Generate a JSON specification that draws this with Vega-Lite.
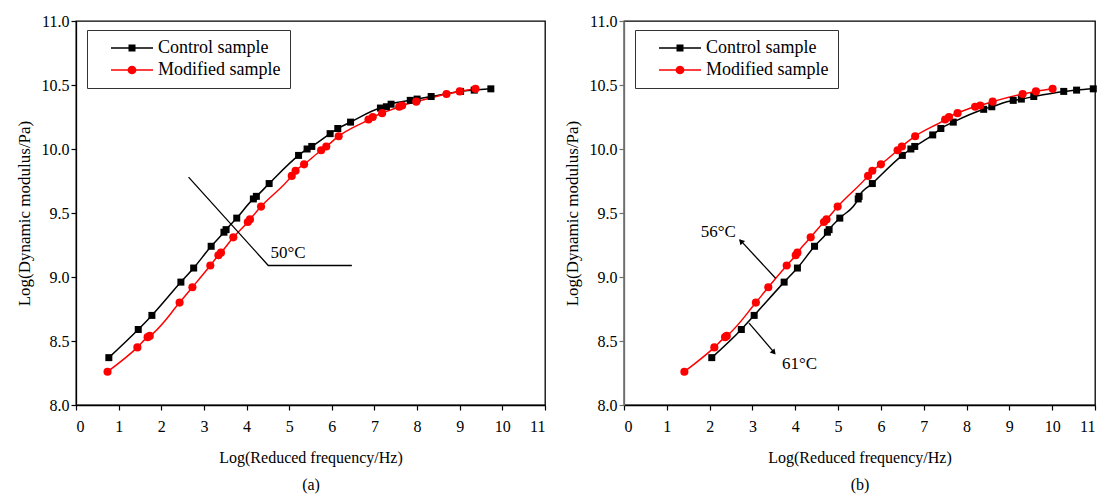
{
  "$schema": "https://vega.github.io/schema/vega-lite/v6.json",
  "padding": {"left": 14, "top": 12, "right": 0, "bottom": 3},
  "background": "white",
  "config": {
    "font": "Liberation Serif",
    "view": {"stroke": "black", "strokeWidth": 1.3},
    "axis": {
      "domainColor": "black", "tickColor": "black", "labelColor": "black", "titleColor": "black",
      "labelFont": "Liberation Serif", "titleFont": "Liberation Serif",
      "labelFontSize": 16, "titleFontSize": 17, "titleFontWeight": "normal",
      "grid": false, "tickSize": 5, "domainWidth": 1.3, "tickWidth": 1.2
    },
    "legend": {"labelFont": "Liberation Serif"}
  },
  "datasets": {
    "a": [
      {"series": "Control sample", "x": 0.77, "y": 8.37},
      {"series": "Control sample", "x": 1.46, "y": 8.59},
      {"series": "Control sample", "x": 1.78, "y": 8.70},
      {"series": "Control sample", "x": 2.46, "y": 8.96},
      {"series": "Control sample", "x": 2.76, "y": 9.07},
      {"series": "Control sample", "x": 3.17, "y": 9.24},
      {"series": "Control sample", "x": 3.47, "y": 9.35},
      {"series": "Control sample", "x": 3.52, "y": 9.37},
      {"series": "Control sample", "x": 3.77, "y": 9.46},
      {"series": "Control sample", "x": 4.16, "y": 9.61},
      {"series": "Control sample", "x": 4.23, "y": 9.63},
      {"series": "Control sample", "x": 4.53, "y": 9.73},
      {"series": "Control sample", "x": 5.22, "y": 9.95},
      {"series": "Control sample", "x": 5.42, "y": 10.00},
      {"series": "Control sample", "x": 5.53, "y": 10.02},
      {"series": "Control sample", "x": 5.96, "y": 10.12},
      {"series": "Control sample", "x": 6.14, "y": 10.16},
      {"series": "Control sample", "x": 6.44, "y": 10.21},
      {"series": "Control sample", "x": 7.14, "y": 10.32},
      {"series": "Control sample", "x": 7.28, "y": 10.33},
      {"series": "Control sample", "x": 7.39, "y": 10.35},
      {"series": "Control sample", "x": 7.84, "y": 10.38},
      {"series": "Control sample", "x": 8.00, "y": 10.39},
      {"series": "Control sample", "x": 8.33, "y": 10.41},
      {"series": "Control sample", "x": 9.02, "y": 10.45},
      {"series": "Control sample", "x": 9.34, "y": 10.46},
      {"series": "Control sample", "x": 9.73, "y": 10.47},
      {"series": "Modified sample", "x": 0.74, "y": 8.26},
      {"series": "Modified sample", "x": 1.44, "y": 8.45},
      {"series": "Modified sample", "x": 1.68, "y": 8.53},
      {"series": "Modified sample", "x": 1.73, "y": 8.54},
      {"series": "Modified sample", "x": 2.43, "y": 8.80},
      {"series": "Modified sample", "x": 2.73, "y": 8.92},
      {"series": "Modified sample", "x": 3.15, "y": 9.09},
      {"series": "Modified sample", "x": 3.34, "y": 9.17},
      {"series": "Modified sample", "x": 3.40, "y": 9.19},
      {"series": "Modified sample", "x": 3.69, "y": 9.31},
      {"series": "Modified sample", "x": 4.03, "y": 9.43},
      {"series": "Modified sample", "x": 4.08, "y": 9.45},
      {"series": "Modified sample", "x": 4.34, "y": 9.55},
      {"series": "Modified sample", "x": 5.06, "y": 9.79},
      {"series": "Modified sample", "x": 5.15, "y": 9.83},
      {"series": "Modified sample", "x": 5.35, "y": 9.88},
      {"series": "Modified sample", "x": 5.75, "y": 9.99},
      {"series": "Modified sample", "x": 5.87, "y": 10.02},
      {"series": "Modified sample", "x": 6.16, "y": 10.10},
      {"series": "Modified sample", "x": 6.86, "y": 10.23},
      {"series": "Modified sample", "x": 6.96, "y": 10.25},
      {"series": "Modified sample", "x": 7.18, "y": 10.28},
      {"series": "Modified sample", "x": 7.58, "y": 10.33},
      {"series": "Modified sample", "x": 7.65, "y": 10.34},
      {"series": "Modified sample", "x": 7.98, "y": 10.37},
      {"series": "Modified sample", "x": 8.69, "y": 10.43},
      {"series": "Modified sample", "x": 9.00, "y": 10.45},
      {"series": "Modified sample", "x": 9.37, "y": 10.47}
    ],
    "b": [
      {"series": "Control sample", "x": 2.05, "y": 8.37},
      {"series": "Control sample", "x": 2.74, "y": 8.59},
      {"series": "Control sample", "x": 3.04, "y": 8.70},
      {"series": "Control sample", "x": 3.74, "y": 8.96},
      {"series": "Control sample", "x": 4.05, "y": 9.07},
      {"series": "Control sample", "x": 4.45, "y": 9.24},
      {"series": "Control sample", "x": 4.75, "y": 9.35},
      {"series": "Control sample", "x": 4.79, "y": 9.37},
      {"series": "Control sample", "x": 5.04, "y": 9.46},
      {"series": "Control sample", "x": 5.47, "y": 9.61},
      {"series": "Control sample", "x": 5.49, "y": 9.63},
      {"series": "Control sample", "x": 5.80, "y": 9.73},
      {"series": "Control sample", "x": 6.50, "y": 9.95},
      {"series": "Control sample", "x": 6.70, "y": 10.00},
      {"series": "Control sample", "x": 6.79, "y": 10.02},
      {"series": "Control sample", "x": 7.21, "y": 10.11},
      {"series": "Control sample", "x": 7.40, "y": 10.16},
      {"series": "Control sample", "x": 7.69, "y": 10.21},
      {"series": "Control sample", "x": 8.40, "y": 10.31},
      {"series": "Control sample", "x": 8.59, "y": 10.33},
      {"series": "Control sample", "x": 9.09, "y": 10.38},
      {"series": "Control sample", "x": 9.28, "y": 10.39},
      {"series": "Control sample", "x": 9.57, "y": 10.41},
      {"series": "Control sample", "x": 10.27, "y": 10.45},
      {"series": "Control sample", "x": 10.57, "y": 10.46},
      {"series": "Control sample", "x": 10.96, "y": 10.47},
      {"series": "Modified sample", "x": 1.41, "y": 8.26},
      {"series": "Modified sample", "x": 2.11, "y": 8.45},
      {"series": "Modified sample", "x": 2.36, "y": 8.53},
      {"series": "Modified sample", "x": 2.40, "y": 8.54},
      {"series": "Modified sample", "x": 3.08, "y": 8.80},
      {"series": "Modified sample", "x": 3.37, "y": 8.92},
      {"series": "Modified sample", "x": 3.80, "y": 9.09},
      {"series": "Modified sample", "x": 4.01, "y": 9.17},
      {"series": "Modified sample", "x": 4.05, "y": 9.19},
      {"series": "Modified sample", "x": 4.36, "y": 9.31},
      {"series": "Modified sample", "x": 4.67, "y": 9.43},
      {"series": "Modified sample", "x": 4.73, "y": 9.45},
      {"series": "Modified sample", "x": 4.99, "y": 9.55},
      {"series": "Modified sample", "x": 5.70, "y": 9.79},
      {"series": "Modified sample", "x": 5.80, "y": 9.83},
      {"series": "Modified sample", "x": 6.00, "y": 9.88},
      {"series": "Modified sample", "x": 6.39, "y": 9.99},
      {"series": "Modified sample", "x": 6.49, "y": 10.02},
      {"series": "Modified sample", "x": 6.80, "y": 10.10},
      {"series": "Modified sample", "x": 7.50, "y": 10.23},
      {"series": "Modified sample", "x": 7.59, "y": 10.25},
      {"series": "Modified sample", "x": 7.79, "y": 10.28},
      {"series": "Modified sample", "x": 8.20, "y": 10.33},
      {"series": "Modified sample", "x": 8.32, "y": 10.34},
      {"series": "Modified sample", "x": 8.61, "y": 10.37},
      {"series": "Modified sample", "x": 9.31, "y": 10.43},
      {"series": "Modified sample", "x": 9.62, "y": 10.45},
      {"series": "Modified sample", "x": 10.01, "y": 10.47}
    ],
    "annALine": [
      {"id": "50", "x": 2.64, "y": 9.78},
      {"id": "50", "x": 4.51, "y": 9.09},
      {"id": "50", "x": 6.47, "y": 9.09}
    ],
    "annAText": [
      {"label": "50°C", "x": 4.56, "y": 9.19}
    ],
    "annBLine": [
      {"id": "56", "x": 3.54, "y": 8.99},
      {"id": "56", "x": 2.71, "y": 9.29},
      {"id": "61", "x": 2.92, "y": 8.64},
      {"id": "61", "x": 3.52, "y": 8.405}
    ],
    "annBHead": [
      {"id": "56", "x": 2.73, "y": 9.28, "angle": 317},
      {"id": "61", "x": 3.50, "y": 8.41, "angle": 140}
    ],
    "annBText": [
      {"label": "56°C", "x": 2.20, "y": 9.35},
      {"label": "61°C", "x": 4.10, "y": 8.32}
    ]
  },
  "spacing": 15,
  "resolve": {"scale": {"color": "independent", "shape": "independent", "size": "independent"}},
  "hconcat": [
    {
      "width": 469,
      "height": 384,
      "resolve": {"scale": {"color": "independent", "shape": "independent", "size": "independent"}},
      "layer": [
        {
          "data": {"name": "a"},
          "mark": {"type": "line", "interpolate": "monotone", "strokeWidth": 1.5},
          "encoding": {
            "x": {"field": "x", "type": "quantitative",
              "scale": {"domain": [0, 11], "nice": false, "zero": false},
              "axis": {"values": [0,1,2,3,4,5,6,7,8,9,10,11], "format": "d", "labelPadding": 8,
                "title": ["Log(Reduced frequency/Hz)", "(a)"], "titleFontSize": 16, "titleLineHeight": 27, "titlePadding": 15}},
            "y": {"field": "y", "type": "quantitative",
              "scale": {"domain": [8, 11], "nice": false, "zero": false},
              "axis": {"values": [8,8.25,8.5,8.75,9,9.25,9.5,9.75,10,10.25,10.5,10.75,11],
                "labelExpr": "datum.value * 4 % 2 == 0 ? format(datum.value, '.1f') : ''",
                "tickSize": {"condition": {"test": "datum.value * 4 % 2 == 0", "value": 5}, "value": 3},
                "labelPadding": 2, "title": "Log(Dynamic modulus/Pa)", "titlePadding": 8}},
            "color": {"field": "series", "type": "nominal",
              "scale": {"domain": ["Control sample", "Modified sample"], "range": ["#000000", "#ff0000"]},
              "legend": null}
          }
        },
        {
          "data": {"name": "a"},
          "mark": {"type": "point", "filled": true, "opacity": 1},
          "encoding": {
            "x": {"field": "x", "type": "quantitative"},
            "y": {"field": "y", "type": "quantitative"},
            "color": {"field": "series", "type": "nominal",
              "scale": {"domain": ["Control sample", "Modified sample"], "range": ["#000000", "#ff0000"]}, "legend": null},
            "shape": {"field": "series", "type": "nominal",
              "scale": {"domain": ["Control sample", "Modified sample"], "range": ["square", "circle"]}, "legend": null},
            "size": {"field": "series", "type": "nominal",
              "scale": {"domain": ["Control sample", "Modified sample"], "range": [49, 66]}, "legend": null}
          }
        },
        {
          "data": {"name": "a"},
          "mark": {"type": "point", "filled": true, "opacity": 0},
          "encoding": {
            "x": {"field": "x", "type": "quantitative"},
            "y": {"field": "y", "type": "quantitative"},
            "color": {"field": "series", "type": "nominal",
              "scale": {"domain": ["Control sample", "Modified sample"], "range": ["#000000", "#ff0000"]},
              "legend": {"title": null, "orient": "none", "legendX": 11, "legendY": 9,
                "strokeColor": "#333333", "fillColor": "white", "padding": 9, "rowPadding": 4,
                "symbolSize": 64, "symbolOffset": 27, "labelOffset": 17, "labelFontSize": 18,
                "labelColor": "black", "symbolStrokeWidth": 0, "symbolOpacity": 1}},
            "shape": {"field": "series", "type": "nominal",
              "scale": {"domain": ["Control sample", "Modified sample"],
                "range": ["M-5.25,-0.19H-0.875V-0.875H0.875V-0.19H5.25V0.19H0.875V0.875H-0.875V0.19H-5.25Z",
                          "M-5.25,-0.19H-1.1A1.125,1.125 0 0 1 1.1,-0.19H5.25V0.19H1.1A1.125,1.125 0 0 1 -1.1,0.19H-5.25Z"]},
              "legend": {"title": null, "orient": "none", "legendX": 11, "legendY": 9,
                "strokeColor": "#333333", "fillColor": "white", "padding": 9, "rowPadding": 4,
                "symbolSize": 64, "symbolOffset": 27, "labelOffset": 17, "labelFontSize": 18,
                "labelColor": "black", "symbolStrokeWidth": 0, "symbolOpacity": 1}}
          }
        },
        {
          "data": {"name": "annALine"},
          "mark": {"type": "line", "color": "black", "strokeWidth": 1.3},
          "encoding": {
            "x": {"field": "x", "type": "quantitative"},
            "y": {"field": "y", "type": "quantitative"},
            "detail": {"field": "id"}
          }
        },
        {
          "data": {"name": "annAText"},
          "mark": {"type": "text", "align": "left", "baseline": "middle", "fontSize": 17, "font": "Liberation Serif", "color": "black"},
          "encoding": {
            "x": {"field": "x", "type": "quantitative"},
            "y": {"field": "y", "type": "quantitative"},
            "text": {"field": "label"}
          }
        }
      ]
    },
    {
      "width": 471,
      "height": 384,
      "resolve": {"scale": {"color": "independent", "shape": "independent", "size": "independent"}},
      "layer": [
        {
          "data": {"name": "b"},
          "mark": {"type": "line", "interpolate": "monotone", "strokeWidth": 1.5},
          "encoding": {
            "x": {"field": "x", "type": "quantitative",
              "scale": {"domain": [0, 11], "nice": false, "zero": false},
              "axis": {"values": [0,1,2,3,4,5,6,7,8,9,10,11], "format": "d", "labelPadding": 8,
                "title": ["Log(Reduced frequency/Hz)", "(b)"], "titleFontSize": 16, "titleLineHeight": 27, "titlePadding": 15}},
            "y": {"field": "y", "type": "quantitative",
              "scale": {"domain": [8, 11], "nice": false, "zero": false},
              "axis": {"values": [8,8.25,8.5,8.75,9,9.25,9.5,9.75,10,10.25,10.5,10.75,11],
                "labelExpr": "datum.value * 4 % 2 == 0 ? format(datum.value, '.1f') : ''",
                "tickSize": {"condition": {"test": "datum.value * 4 % 2 == 0", "value": 5}, "value": 3},
                "domainColor": "#6e6e6e", "tickColor": "#6e6e6e",
                "labelPadding": 2, "title": "Log(Dynamic modulus/Pa)", "titlePadding": 8}},
            "color": {"field": "series", "type": "nominal",
              "scale": {"domain": ["Control sample", "Modified sample"], "range": ["#000000", "#ff0000"]},
              "legend": null}
          }
        },
        {
          "data": {"name": "b"},
          "mark": {"type": "point", "filled": true, "opacity": 1},
          "encoding": {
            "x": {"field": "x", "type": "quantitative"},
            "y": {"field": "y", "type": "quantitative"},
            "color": {"field": "series", "type": "nominal",
              "scale": {"domain": ["Control sample", "Modified sample"], "range": ["#000000", "#ff0000"]}, "legend": null},
            "shape": {"field": "series", "type": "nominal",
              "scale": {"domain": ["Control sample", "Modified sample"], "range": ["square", "circle"]}, "legend": null},
            "size": {"field": "series", "type": "nominal",
              "scale": {"domain": ["Control sample", "Modified sample"], "range": [49, 66]}, "legend": null}
          }
        },
        {
          "data": {"name": "b"},
          "mark": {"type": "point", "filled": true, "opacity": 0},
          "encoding": {
            "x": {"field": "x", "type": "quantitative"},
            "y": {"field": "y", "type": "quantitative"},
            "color": {"field": "series", "type": "nominal",
              "scale": {"domain": ["Control sample", "Modified sample"], "range": ["#000000", "#ff0000"]},
              "legend": {"title": null, "orient": "none", "legendX": 11, "legendY": 9,
                "strokeColor": "#333333", "fillColor": "white", "padding": 9, "rowPadding": 4,
                "symbolSize": 64, "symbolOffset": 27, "labelOffset": 17, "labelFontSize": 18,
                "labelColor": "black", "symbolStrokeWidth": 0, "symbolOpacity": 1}},
            "shape": {"field": "series", "type": "nominal",
              "scale": {"domain": ["Control sample", "Modified sample"],
                "range": ["M-5.25,-0.19H-0.875V-0.875H0.875V-0.19H5.25V0.19H0.875V0.875H-0.875V0.19H-5.25Z",
                          "M-5.25,-0.19H-1.1A1.125,1.125 0 0 1 1.1,-0.19H5.25V0.19H1.1A1.125,1.125 0 0 1 -1.1,0.19H-5.25Z"]},
              "legend": {"title": null, "orient": "none", "legendX": 11, "legendY": 9,
                "strokeColor": "#333333", "fillColor": "white", "padding": 9, "rowPadding": 4,
                "symbolSize": 64, "symbolOffset": 27, "labelOffset": 17, "labelFontSize": 18,
                "labelColor": "black", "symbolStrokeWidth": 0, "symbolOpacity": 1}}
          }
        },
        {
          "data": {"name": "annBLine"},
          "mark": {"type": "line", "color": "black", "strokeWidth": 1.3},
          "encoding": {
            "x": {"field": "x", "type": "quantitative"},
            "y": {"field": "y", "type": "quantitative"},
            "detail": {"field": "id"}
          }
        },
        {
          "data": {"name": "annBHead"},
          "mark": {"type": "point", "shape": "triangle-up", "filled": true, "color": "black", "size": 40, "opacity": 1},
          "encoding": {
            "x": {"field": "x", "type": "quantitative"},
            "y": {"field": "y", "type": "quantitative"},
            "angle": {"field": "angle", "type": "quantitative", "scale": null}
          }
        },
        {
          "data": {"name": "annBText"},
          "mark": {"type": "text", "align": "center", "baseline": "middle", "fontSize": 17, "font": "Liberation Serif", "color": "black"},
          "encoding": {
            "x": {"field": "x", "type": "quantitative"},
            "y": {"field": "y", "type": "quantitative"},
            "text": {"field": "label"}
          }
        }
      ]
    }
  ]
}
